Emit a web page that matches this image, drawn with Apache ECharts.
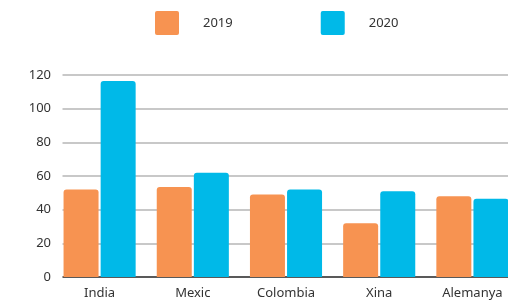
<!DOCTYPE html>
<html>
<head>
<meta charset="utf-8">
<script src="https://cdn.jsdelivr.net/npm/echarts@6/dist/echarts.min.js"></script>
<style>
  html, body { margin: 0; padding: 0; background: #fff; }
  #chart { width: 508px; height: 305px; }
</style>
</head>
<body>
<div id="chart"></div>
<script>
// dades
const countries = ['India', 'Mexic', 'Colombia', 'Xina', 'Alemanya']
const values2019 = [52, 53.5, 49, 32, 48]
const values2020 = [116.5, 62, 52, 51, 46.5]
const yTicks = { min: 0, max: 120, interval: 20 }

const orange = '#f79351'
const blue = '#00b9e8'
const font = 'Noto Sans'

const chart = echarts.init(document.getElementById('chart'))

chart.setOption({
  animation: false,
  textStyle: { fontFamily: font },
  legend: {
    left: 150,
    top: 6,
    itemWidth: 24,
    itemHeight: 24,
    itemGap: 88,
    icon: 'path://M2,0H22A2,2,0,0,1,24,2V22A2,2,0,0,1,22,24H2A2,2,0,0,1,0,22V2A2,2,0,0,1,2,0Z',
    textStyle: { fontSize: 13, color: '#333', padding: [0, 0, 0, 19] },
    data: ['2019', '2020']
  },
  grid: {
    left: 53,
    top: 75,
    width: 466,
    bottom: 28,
    containLabel: false,
    outerBoundsMode: 'none'
  },
  xAxis: {
    type: 'category',
    data: countries,
    axisTick: { show: false },
    axisLine: { lineStyle: { color: '#595959', width: 2 } },
    axisLabel: { fontSize: 13, color: '#333', margin: 10 }
  },
  yAxis: {
    type: 'value',
    min: yTicks.min,
    max: yTicks.max,
    interval: yTicks.interval,
    axisTick: { show: false },
    axisLine: { show: false },
    axisLabel: { fontSize: 13, color: '#333', margin: 2 },
    splitLine: { lineStyle: { color: '#c8c8c8', width: 2 } }
  },
  graphic: [{
    // la quadrícula comença a x=63
    type: 'rect',
    z: 5,
    shape: { x: 51.5, y: 68, width: 11, height: 212 },
    style: { fill: '#fff' }
  }],
  series: [
    {
      name: '2019',
      type: 'bar',
      data: values2019,
      barWidth: 35,
      barGap: '6%',
      itemStyle: { color: orange, borderRadius: [3, 3, 0, 0] }
    },
    {
      name: '2020',
      type: 'bar',
      data: values2020,
      barWidth: 35,
      itemStyle: { color: blue, borderRadius: [3, 3, 0, 0] }
    }
  ]
})
</script>
</body>
</html>
